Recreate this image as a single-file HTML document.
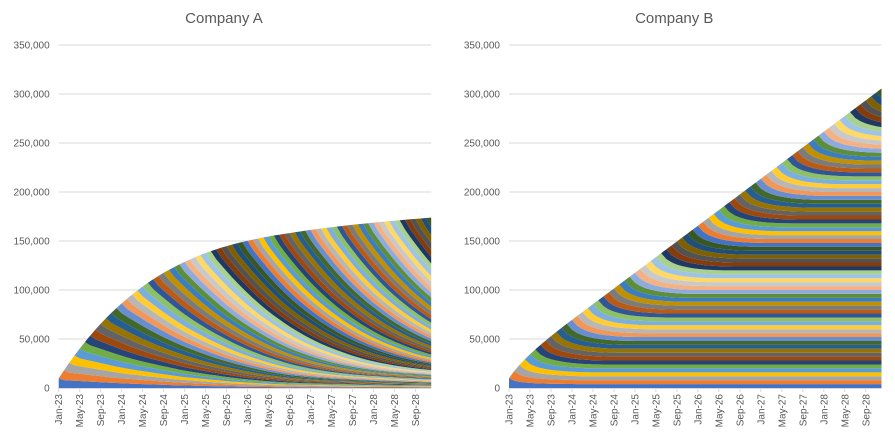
<!DOCTYPE html>
<html><head><meta charset="utf-8">
<style>
html,body{margin:0;padding:0;background:#fff;}
svg{display:block;font-family:"Liberation Sans",sans-serif;}
</style></head>
<body>
<svg id="chart" width="895" height="445" viewBox="0 0 895 445" xmlns="http://www.w3.org/2000/svg"></svg>
<script>
const months = ["Jan-23","Feb-23","Mar-23","Apr-23","May-23","Jun-23","Jul-23","Aug-23","Sep-23","Oct-23","Nov-23","Dec-23",
"Jan-24","Feb-24","Mar-24","Apr-24","May-24","Jun-24","Jul-24","Aug-24","Sep-24","Oct-24","Nov-24","Dec-24",
"Jan-25","Feb-25","Mar-25","Apr-25","May-25","Jun-25","Jul-25","Aug-25","Sep-25","Oct-25","Nov-25","Dec-25",
"Jan-26","Feb-26","Mar-26","Apr-26","May-26","Jun-26","Jul-26","Aug-26","Sep-26","Oct-26","Nov-26","Dec-26",
"Jan-27","Feb-27","Mar-27","Apr-27","May-27","Jun-27","Jul-27","Aug-27","Sep-27","Oct-27","Nov-27","Dec-27",
"Jan-28","Feb-28","Mar-28","Apr-28","May-28","Jun-28","Jul-28","Aug-28","Sep-28","Oct-28","Nov-28","Dec-28"];
const yTicks = [0,50000,100000,150000,200000,250000,300000,350000];
const yTickLabels = ["0","50,000","100,000","150,000","200,000","250,000","300,000","350,000"];
// new customers acquired per monthly cohort
const cohortSizeA = [10000,10000,10000,10000,10000,10000,10000,10000,10000,10000,10000,10000,10000,10000,10000,10000,10000,10000,10000,10000,10000,10000,10000,10000,10000,10000,10000,10000,10000,10000,10000,10000,10000,10000,10000,10000,10000,10000,10000,10000,10000,10000,10000,10000,10000,10000,10000,10000,10000,10000,10000,10000,10000,10000,10000,10000,10000,10000,10000,10000,10000,10000,10000,10000,10000,10000,10000,10000,10000,10000,10000,10000];
const cohortSizeB = [10000,10000,10000,10000,10000,10000,10000,10000,10000,10000,10000,10000,10000,10000,10000,10000,10000,10000,10000,10000,10000,10000,10000,10000,10000,10000,10000,10000,10000,10000,10000,10000,10000,10000,10000,10000,10000,10000,10000,10000,10000,10000,10000,10000,10000,10000,10000,10000,10000,10000,10000,10000,10000,10000,10000,10000,10000,10000,10000,10000,10000,10000,10000,10000,10000,10000,10000,10000,10000,10000,10000,10000];
// retention by cohort age (months)
const retentionA = [1,.8,.77,.74,.71,.68,.65,.62,.59,.56,.53,.505,.48,.46,.44,.42,.40,.38,.36,.34,.32,.30,.285,.27,.255,.25,.235,.22,.205,.193,.181,.17,.16,.15,.141,.133,.125,.118,.111,.105,.099,.094,.089,.084,.08,.086,.082,.079,.076,.073,.07,.068,.066,.064,.062,.06,.058,.056,.055,.054,.053,.052,.051,.05,.049,.048,.047,.046,.045,.044,.043,.042];
const retentionB = [1,.74,.62,.56,.52,.49,.47,.45,.44,.43,.42,.41,.405,.4,.4,.4,.4,.4,.4,.4,.4,.4,.4,.4,.4,.4,.4,.4,.4,.4,.4,.4,.4,.4,.4,.4,.4,.4,.4,.4,.4,.4,.4,.4,.4,.4,.4,.4,.4,.4,.4,.4,.4,.4,.4,.4,.4,.4,.4,.4,.4,.4,.4,.4,.4,.4,.4,.4,.4,.4,.4,.4];
const palette = ["#4472C4","#ED7D31","#A5A5A5","#FFC000","#5B9BD5","#70AD47","#264478","#9E480E","#636363","#997300","#255E91","#43682B","#698ED0","#F1975A","#B7B7B7","#FFCD33","#7CAFDD","#8CC168","#325596","#BA5A14","#7B7B7B","#C09000","#3C7EBD","#5D8E3B","#8FAADC","#F4B183","#C9C9C9","#FFD966","#9DC3E6","#A9D18E","#203864","#843C0C","#525252","#7F6000","#1F4E79","#385723"];

const NS = "http://www.w3.org/2000/svg";
const svg = document.getElementById('chart');
function mk(tag, attrs, parent){const e=document.createElementNS(NS,tag);for(const k in attrs)e.setAttribute(k,attrs[k]);(parent||svg).appendChild(e);return e;}

function drawChart(title, x0, sizes, ret, key){
  const g = mk('g',{});
  
  
  const left = x0, right = x0 + 372.5, y0 = 388, yTop = 45, maxV = 350000;
  const n = months.length;
  const xs = i => left + (right-left)*i/(n-1);
  const ys = v => y0 - (y0-yTop)*v/maxV;
  const t = mk('text',{x:(left+right)/2 - 21, y:23, 'text-anchor':'middle','font-size':'15',fill:'#595959'},g);
  t.textContent = title;
  
  
  yTicks.forEach((v,i)=>{
    const gl = mk('line',{x1:left,x2:right,y1:ys(v),y2:ys(v),stroke:'#d9d9d9','stroke-width':1},g);
    
    
    const tl = mk('text',{x:left-9,y:ys(v)+3.5,'text-anchor':'end','font-size':'10',fill:'#595959'},g);
    tl.textContent = yTickLabels[i];
    
    
  });
  const cum = new Array(n).fill(0);
  for(let c=0;c<n;c++){
    const prev = cum.slice();
    for(let m=0;m<n;m++){ if(m>=c) cum[m] += sizes[c]*ret[m-c]; }
    let d = '';
    for(let m=0;m<n;m++) d += (m?'L':'M')+xs(m).toFixed(2)+','+ys(cum[m]).toFixed(2);
    for(let m=n-1;m>=0;m--) d += 'L'+xs(m).toFixed(2)+','+ys(prev[m]).toFixed(2);
    const p = mk('path',{d:d+'Z',fill:palette[c%palette.length],stroke:'none'},g);
    
    
  }
  const ax = mk('line',{x1:left,x2:right,y1:y0+0.5,y2:y0+0.5,stroke:'#d9d9d9','stroke-width':1},g);
  
  
  for(let m=0;m<n;m+=4){
    const tk = mk('line',{x1:xs(m),x2:xs(m),y1:y0,y2:y0+4,stroke:'#d9d9d9'},g);
    
    
    const lx = xs(m)+3.5, ly = y0+6;
    const lb = mk('text',{x:lx,y:ly,'text-anchor':'end','font-size':'10',fill:'#595959',transform:`rotate(-90 ${lx} ${ly})`},g);
    lb.textContent = months[m];
    
    
  }
}
drawChart('Company A', 58.7, cohortSizeA, retentionA, 'company-a');
drawChart('Company B', 509, cohortSizeB, retentionB, 'company-b');
</script>
</body></html>
